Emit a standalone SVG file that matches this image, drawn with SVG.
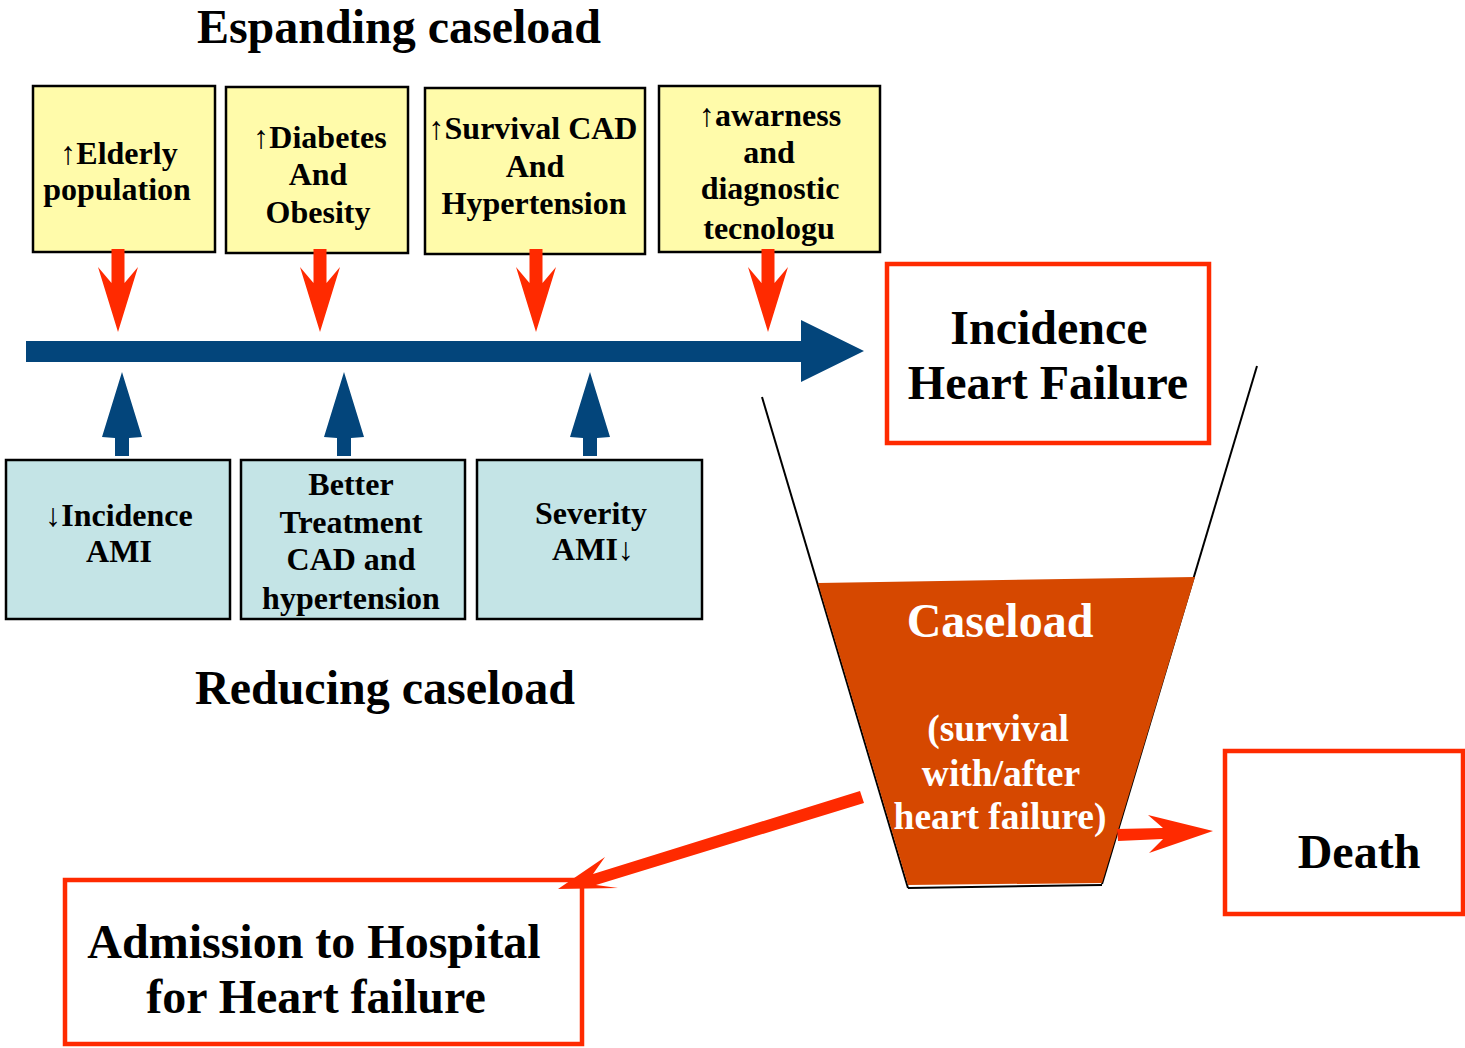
<svg xmlns="http://www.w3.org/2000/svg" width="1465" height="1048" viewBox="0 0 1465 1048">
<style>
text{font-family:"Liberation Serif","Times New Roman",serif;font-weight:bold;text-anchor:middle}
.t48{font-size:48px;fill:#000}
.t32{font-size:32px;fill:#000}
.w48{font-size:48px;fill:#fff}
.w37{font-size:37.5px;fill:#fff}
.ybox{fill:#FFFBAA;stroke:#000;stroke-width:2.5}
.bbox{fill:#C4E4E6;stroke:#000;stroke-width:2.5}
.rbox{fill:#fff;stroke:#FF2A00;stroke-width:4.5}
.red{fill:#FF2A00}
.blue{fill:#03457B}
</style>
<rect width="1465" height="1048" fill="#fff"/>
<text class="t48" x="399" y="43">Espanding caseload</text>
<text class="t48" x="385" y="704">Reducing caseload</text>

<g id="n-elderly"><rect class="ybox" x="33" y="86" width="182" height="166"/>
<text class="t32"><tspan x="119" y="164">↑Elderly</tspan><tspan x="117" y="200">population</tspan></text></g>
<g id="n-diabetes"><rect class="ybox" x="226" y="87" width="182" height="166"/>
<text class="t32"><tspan x="320" y="148">↑Diabetes</tspan><tspan x="318" y="185">And</tspan><tspan x="318" y="223">Obesity</tspan></text></g>
<g id="n-survival"><rect class="ybox" x="425" y="88" width="220" height="166"/>
<text class="t32"><tspan x="533" y="139">↑Survival CAD</tspan><tspan x="535" y="177">And</tspan><tspan x="534" y="214">Hypertension</tspan></text></g>
<g id="n-awareness"><rect class="ybox" x="659" y="86" width="221" height="166"/>
<text class="t32"><tspan x="770" y="126">↑awarness</tspan><tspan x="769" y="163">and</tspan><tspan x="770" y="199">diagnostic</tspan><tspan x="769" y="239">tecnologu</tspan></text></g>

<g id="n-incidence-ami"><rect class="bbox" x="6" y="460" width="224" height="159"/>
<text class="t32"><tspan x="119" y="526">↓Incidence</tspan><tspan x="119" y="562">AMI</tspan></text></g>
<g id="n-better-treatment"><rect class="bbox" x="241" y="460" width="224" height="159"/>
<text class="t32"><tspan x="351" y="495">Better</tspan><tspan x="351" y="533">Treatment</tspan><tspan x="351" y="570">CAD and</tspan><tspan x="351" y="609">hypertension</tspan></text></g>
<g id="n-severity"><rect class="bbox" x="477" y="460" width="225" height="159"/>
<text class="t32"><tspan x="591" y="524">Severity</tspan><tspan x="593" y="560">AMI↓</tspan></text></g>

<g id="n-incidence-hf"><rect class="rbox" x="887" y="264" width="322" height="179"/>
<text class="t48"><tspan x="1049" y="344">Incidence</tspan><tspan x="1048" y="399">Heart Failure</tspan></text></g>

<g id="n-caseload">
<line x1="762" y1="397" x2="908" y2="888" stroke="#000" stroke-width="2"/>
<line x1="1257" y1="366" x2="1102" y2="884" stroke="#000" stroke-width="2"/>
<polygon points="818,583 1195,577 1102,883 908,885" fill="#D64800"/>
<line x1="908" y1="888" x2="1102" y2="885" stroke="#000" stroke-width="2"/>
<text class="w48" x="1000" y="637">Caseload</text>
<text class="w37"><tspan x="998" y="741">(survival</tspan><tspan x="1001" y="786">with/after</tspan><tspan x="1000" y="829">heart failure)</tspan></text>
</g>

<g id="n-death"><rect class="rbox" x="1225" y="751" width="238" height="163"/>
<text class="t48" x="1359" y="868">Death</text></g>

<g id="n-admission"><rect class="rbox" x="65" y="880" width="517" height="164"/>
<text class="t48"><tspan x="314" y="958">Admission to Hospital</tspan><tspan x="316" y="1013">for Heart failure</tspan></text></g>

<g id="connectors">
<defs>
<path id="rdown" d="M-6.5,0 L-6.5,34 L-20,18 L0,83 L20,18 L6.5,34 L6.5,0 Z"/>
<path id="bup" d="M-7,0 L-7,-18 L-20,-19 L0,-84 L20,-19 L7,-18 L7,0 Z"/>
</defs>
<use href="#rdown" class="red" x="118" y="249"/>
<use href="#rdown" class="red" x="320" y="249"/>
<use href="#rdown" class="red" x="536" y="249"/>
<use href="#rdown" class="red" x="768" y="249"/>
<polygon class="blue" points="26,341 801,341 801,320 864,351 801,382 801,362 26,362"/>
<use href="#bup" class="blue" x="122" y="456"/>
<use href="#bup" class="blue" x="344" y="456"/>
<use href="#bup" class="blue" x="590" y="456"/>
<polygon class="red" points="1117,829 1163,828 1148,815 1213,831 1149,853 1163,839 1118,841"/>
<polygon class="red" points="860,791 864,803 596,885 618,888 558,889 605,857 593,874"/>
</g>
</svg>
